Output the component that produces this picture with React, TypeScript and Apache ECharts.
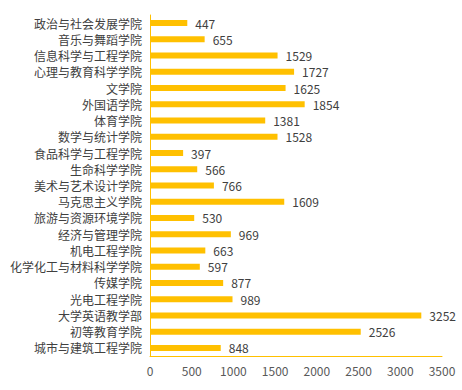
import React, { useEffect, useRef } from "react";
import * as echarts from "echarts";

const categories = [
  "政治与社会发展学院",
  "音乐与舞蹈学院",
  "信息科学与工程学院",
  "心理与教育科学学院",
  "文学院",
  "外国语学院",
  "体育学院",
  "数学与统计学院",
  "食品科学与工程学院",
  "生命科学学院",
  "美术与艺术设计学院",
  "马克思主义学院",
  "旅游与资源环境学院",
  "经济与管理学院",
  "机电工程学院",
  "化学化工与材料科学学院",
  "传媒学院",
  "光电工程学院",
  "大学英语教学部",
  "初等教育学院",
  "城市与建筑工程学院",
];
const values = [447, 655, 1529, 1727, 1625, 1854, 1381, 1528, 397, 566, 766, 1609, 530, 969, 663, 597, 877, 989, 3252, 2526, 848];

const FONT = "'Noto Sans CJK SC', 'Noto Sans', sans-serif";
const YELLOW = "#FFC000";
const TEXT = "#404040";

export default function App() {
  const ref = useRef<HTMLDivElement>(null);
  useEffect(() => {
    const chart = echarts.init(ref.current!, null, { renderer: "svg" });
    chart.setOption({
      animation: false,
      grid: { left: 150, right: 20, top: 15, bottom: 34 },
      xAxis: {
        type: "value",
        min: 0,
        max: 3500,
        interval: 500,
        axisLine: { show: true, onZero: false, lineStyle: { color: YELLOW, width: 1 } },
        axisTick: { show: false },
        splitLine: { show: false },
        axisLabel: {
          color: "#595959",
          fontSize: 12,
          fontFamily: FONT,
          margin: 8,
          formatter: (v: number) => String(v),
        },
      },
      yAxis: {
        type: "category",
        inverse: true,
        data: categories,
        axisLine: { show: true, lineStyle: { color: YELLOW, width: 1 } },
        axisTick: { show: false },
        axisLabel: { color: TEXT, fontSize: 12, fontFamily: FONT, margin: 8 },
      },
      series: [
        {
          type: "bar",
          data: values,
          barWidth: 6,
          itemStyle: { color: YELLOW },
          label: {
            show: true,
            position: "right",
            distance: 8,
            color: TEXT,
            fontSize: 12,
            fontFamily: FONT,
            formatter: (p: any) => String(p.value),
          },
        },
      ],
    });
    return () => chart.dispose();
  }, []);
  return <div ref={ref} style={{ position: "absolute", left: 0, top: 0, width: 462, height: 390 }} />;
}
